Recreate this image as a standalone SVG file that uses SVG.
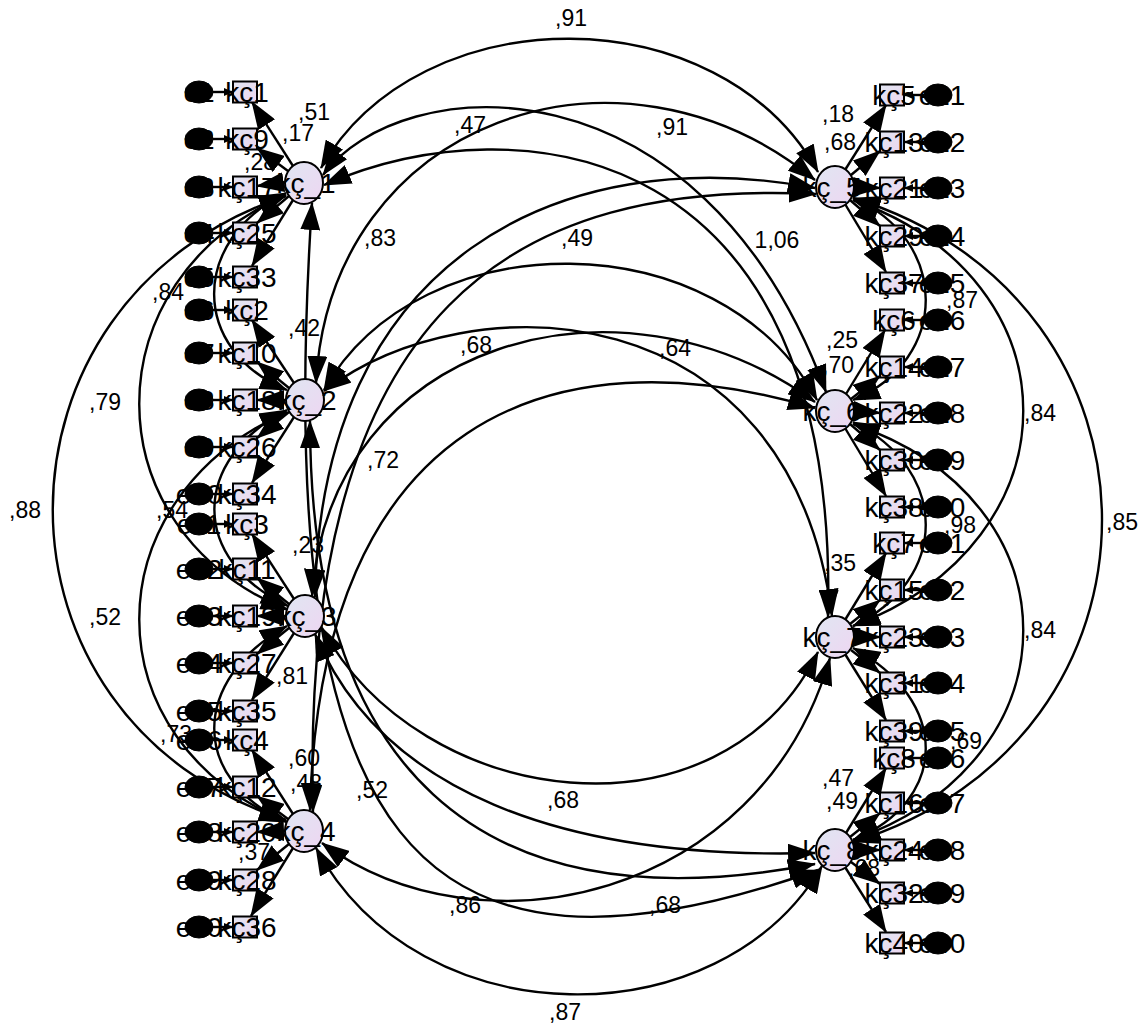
<svg xmlns="http://www.w3.org/2000/svg" width="1145" height="1027" viewBox="0 0 1145 1027">
<defs>
<linearGradient id="gb" x1="0" y1="0" x2="1" y2="1"><stop offset="0" stop-color="#e2e6f2"/><stop offset="1" stop-color="#ecd6f0"/></linearGradient>
<linearGradient id="gl" x1="0" y1="0" x2="1" y2="1"><stop offset="0" stop-color="#e0e6f2"/><stop offset="1" stop-color="#eed6f2"/></linearGradient>
<marker id="ah" markerUnits="userSpaceOnUse" markerWidth="28" markerHeight="20" viewBox="0 0 28 20" refX="27" refY="10" orient="auto-start-reverse"><path d="M0,0 L28,10 L0,20 z" fill="#000"/></marker>
<marker id="ahs" markerUnits="userSpaceOnUse" markerWidth="9" markerHeight="8" viewBox="0 0 9 8" refX="9" refY="4" orient="auto"><path d="M0,0 L9,4 L0,8 z" fill="#000"/></marker>
</defs>
<style>
.cv{fill:none;stroke:#000;stroke-width:2.4;marker-start:url(#ah);marker-end:url(#ah)}
.ld{fill:none;stroke:#000;stroke-width:2.4;marker-end:url(#ah)}
.er{fill:none;stroke:#000;stroke-width:2.4;marker-end:url(#ahs)}
.box{fill:url(#gb);stroke:#000;stroke-width:2}
.lat{fill:url(#gl);stroke:#000;stroke-width:2}
.err{fill:#000;stroke:#000;stroke-width:1}
.t{font-family:"Liberation Sans",Arial,sans-serif;font-size:28px;text-anchor:middle;fill:#000}
.lb{font-family:"Liberation Sans",Arial,sans-serif;font-size:23px;text-anchor:middle;fill:#000}
</style>
<rect width="1145" height="1027" fill="#fff"/>
<g id="connectors">
<path class="cv" d="M321,168 C420,-5 720,-5 818,172"/>
<path class="cv" d="M323,175 C400,70 700,50 826,392"/>
<path class="cv" d="M324,185 C520,100 840,140 828,617"/>
<path class="cv" d="M312,203 C270,850 420,1010 818,870"/>
<path class="cv" d="M316,383 C330,120 620,20 815,180"/>
<path class="cv" d="M324,390 C420,220 720,220 817,400"/>
<path class="cv" d="M324,391 C470,280 790,290 832,616"/>
<path class="cv" d="M310,421 C310,760 470,930 815,864"/>
<path class="cv" d="M315,597 C320,260 560,140 815,188"/>
<path class="cv" d="M312,596 C330,340 620,260 815,402"/>
<path class="cv" d="M322,628 C420,810 720,850 818,652"/>
<path class="cv" d="M315,634 C380,790 560,860 815,853"/>
<path class="cv" d="M313,812 C300,300 520,180 816,194"/>
<path class="cv" d="M310,810 C320,420 550,330 815,408"/>
<path class="cv" d="M322,843 C480,960 760,900 830,658"/>
<path class="cv" d="M316,848 C420,1040 720,1040 822,866"/>
<path class="cv" d="M286,193 C190,240 190,350 287,390"/>
<path class="cv" d="M287,410 C190,460 190,560 288,606"/>
<path class="cv" d="M287,626 C190,680 190,780 287,822"/>
<path class="cv" d="M286,195 C90,280 90,530 288,610"/>
<path class="cv" d="M287,412 C90,500 90,740 287,822"/>
<path class="cv" d="M286,196 C-25,300 -25,720 286,820"/>
<path class="cv" d="M853,198 C950,240 950,360 853,400"/>
<path class="cv" d="M853,422 C950,470 950,580 853,626"/>
<path class="cv" d="M853,648 C950,700 950,800 853,840"/>
<path class="cv" d="M853,200 C1080,280 1080,540 853,626"/>
<path class="cv" d="M853,424 C1080,500 1080,760 853,840"/>
<path class="cv" d="M853,198 C1185,300 1185,740 853,842"/>
<path class="ld" d="M293,166 L252,102"/>
<path class="ld" d="M288,171 L257,148"/>
<path class="ld" d="M284,182 L257,186"/>
<path class="ld" d="M289,196 L257,223"/>
<path class="ld" d="M293,200 L252,266"/>
<path class="ld" d="M294,383 L252,320"/>
<path class="ld" d="M289,388 L257,362"/>
<path class="ld" d="M285,400 L257,400"/>
<path class="ld" d="M289,412 L257,438"/>
<path class="ld" d="M294,417 L252,483"/>
<path class="ld" d="M294,599 L252,534"/>
<path class="ld" d="M289,604 L257,578"/>
<path class="ld" d="M285,616 L257,616"/>
<path class="ld" d="M289,628 L257,654"/>
<path class="ld" d="M294,633 L252,700"/>
<path class="ld" d="M293,814 L252,750"/>
<path class="ld" d="M288,819 L257,796"/>
<path class="ld" d="M284,831 L257,832"/>
<path class="ld" d="M289,844 L257,870"/>
<path class="ld" d="M293,848 L251,916"/>
<path class="ld" d="M845,170 L886,105"/>
<path class="ld" d="M851,175 L880,151"/>
<path class="ld" d="M855,187 L880,188"/>
<path class="ld" d="M850,200 L880,226"/>
<path class="ld" d="M845,204 L886,272"/>
<path class="ld" d="M846,394 L885,330"/>
<path class="ld" d="M851,399 L880,376"/>
<path class="ld" d="M855,411 L880,413"/>
<path class="ld" d="M850,424 L880,450"/>
<path class="ld" d="M845,428 L886,496"/>
<path class="ld" d="M845,620 L886,553"/>
<path class="ld" d="M850,624 L880,600"/>
<path class="ld" d="M855,637 L880,637"/>
<path class="ld" d="M851,650 L880,673"/>
<path class="ld" d="M845,654 L886,720"/>
<path class="ld" d="M846,833 L886,768"/>
<path class="ld" d="M850,837 L880,813"/>
<path class="ld" d="M855,850 L880,850"/>
<path class="ld" d="M851,862 L880,884"/>
<path class="ld" d="M845,867 L886,932"/>
<path class="er" d="M213,92 H233"/><path class="er" d="M213,139 H233"/><path class="er" d="M213,187 H233"/><path class="er" d="M213,233 H233"/><path class="er" d="M213,277 H233"/>
<path class="er" d="M213,310 H233"/><path class="er" d="M213,353 H233"/><path class="er" d="M213,400 H233"/><path class="er" d="M213,447 H233"/><path class="er" d="M213,494 H233"/>
<path class="er" d="M213,524 H233"/><path class="er" d="M213,569 H233"/><path class="er" d="M213,616 H233"/><path class="er" d="M213,663 H233"/><path class="er" d="M213,711 H233"/>
<path class="er" d="M213,740 H233"/><path class="er" d="M213,787 H233"/><path class="er" d="M213,832 H233"/><path class="er" d="M213,880 H233"/><path class="er" d="M213,927 H233"/>
<path class="er" d="M924,95 H904"/><path class="er" d="M924,142 H904"/><path class="er" d="M924,188 H904"/><path class="er" d="M924,236 H904"/><path class="er" d="M924,283 H904"/>
<path class="er" d="M924,320 H904"/><path class="er" d="M924,367 H904"/><path class="er" d="M924,413 H904"/><path class="er" d="M924,460 H904"/><path class="er" d="M924,507 H904"/>
<path class="er" d="M924,543 H904"/><path class="er" d="M924,590 H904"/><path class="er" d="M924,637 H904"/><path class="er" d="M924,683 H904"/><path class="er" d="M924,731 H904"/>
<path class="er" d="M924,758 H904"/><path class="er" d="M924,803 H904"/><path class="er" d="M924,850 H904"/><path class="er" d="M924,893 H904"/><path class="er" d="M924,943 H904"/>
</g>
<g id="labels">
<text class="lb" x="571" y="26">,91</text>
<text class="lb" x="470" y="133">,47</text>
<text class="lb" x="672" y="135">,91</text>
<text class="lb" x="380" y="246">,83</text>
<text class="lb" x="577" y="246">,49</text>
<text class="lb" x="777" y="248">1,06</text>
<text class="lb" x="476" y="353">,68</text>
<text class="lb" x="675" y="356">,64</text>
<text class="lb" x="383" y="468">,72</text>
<text class="lb" x="563" y="808">,68</text>
<text class="lb" x="372" y="798">,52</text>
<text class="lb" x="465" y="913">,86</text>
<text class="lb" x="665" y="913">,68</text>
<text class="lb" x="565" y="1020">,87</text>
<text class="lb" x="105" y="410">,79</text>
<text class="lb" x="25" y="518">,88</text>
<text class="lb" x="105" y="625">,52</text>
<text class="lb" x="168" y="300">,84</text>
<text class="lb" x="172" y="518">,54</text>
<text class="lb" x="176" y="742">,73</text>
<text class="lb" x="962" y="308">,87</text>
<text class="lb" x="960" y="533">,98</text>
<text class="lb" x="966" y="749">,69</text>
<text class="lb" x="1040" y="421">,84</text>
<text class="lb" x="1122" y="530">,85</text>
<text class="lb" x="1040" y="638">,84</text>
<text class="lb" x="314" y="120">,51</text>
<text class="lb" x="298" y="141">,17</text>
<text class="lb" x="260" y="170">,28</text>
<text class="lb" x="304" y="336">,42</text>
<text class="lb" x="308" y="553">,23</text>
<text class="lb" x="292" y="684">,81</text>
<text class="lb" x="304" y="766">,60</text>
<text class="lb" x="306" y="791">,48</text>
<text class="lb" x="254" y="860">,37</text>
<text class="lb" x="838" y="122">,18</text>
<text class="lb" x="840" y="150">,68</text>
<text class="lb" x="842" y="348">,25</text>
<text class="lb" x="838" y="373">,70</text>
<text class="lb" x="840" y="571">,35</text>
<text class="lb" x="838" y="786">,47</text>
<text class="lb" x="842" y="809">,49</text>
<text class="lb" x="864" y="876">,68</text>
</g>
<g id="L1"><ellipse class="lat" cx="304" cy="183" rx="19" ry="21"/><text class="t" x="306" y="193">kç_1</text></g>
<g id="L2"><ellipse class="lat" cx="305" cy="400" rx="19" ry="21"/><text class="t" x="307" y="410">kç_2</text></g>
<g id="L3"><ellipse class="lat" cx="305" cy="616" rx="19" ry="21"/><text class="t" x="307" y="626">kç_3</text></g>
<g id="L4"><ellipse class="lat" cx="304" cy="831" rx="19" ry="21"/><text class="t" x="306" y="841">kç_4</text></g>
<g id="R1"><ellipse class="lat" cx="835" cy="187" rx="19" ry="21"/><text class="t" x="832" y="197">kç_5</text></g>
<g id="R2"><ellipse class="lat" cx="835" cy="411" rx="19" ry="21"/><text class="t" x="832" y="421">kç_6</text></g>
<g id="R3"><ellipse class="lat" cx="835" cy="637" rx="19" ry="21"/><text class="t" x="832" y="647">kç_7</text></g>
<g id="R4"><ellipse class="lat" cx="835" cy="850" rx="19" ry="21"/><text class="t" x="832" y="860">kç_8</text></g>
<g id="left-indicators">
<g id="kc1"><rect class="box" x="233" y="81.5" width="24" height="21"/><text class="t" x="247" y="102">kç1</text></g>
<g id="kc9"><rect class="box" x="233" y="128.5" width="24" height="21"/><text class="t" x="247" y="149">kç9</text></g>
<g id="kc17"><rect class="box" x="233" y="176.5" width="24" height="21"/><text class="t" x="247" y="197">kç17</text></g>
<g id="kc25"><rect class="box" x="233" y="222.5" width="24" height="21"/><text class="t" x="247" y="243">kç25</text></g>
<g id="kc33"><rect class="box" x="233" y="266.5" width="24" height="21"/><text class="t" x="247" y="287">kç33</text></g>
<g id="kc2"><rect class="box" x="233" y="299.5" width="24" height="21"/><text class="t" x="247" y="320">kç2</text></g>
<g id="kc10"><rect class="box" x="233" y="342.5" width="24" height="21"/><text class="t" x="247" y="363">kç10</text></g>
<g id="kc18"><rect class="box" x="233" y="389.5" width="24" height="21"/><text class="t" x="247" y="410">kç18</text></g>
<g id="kc26"><rect class="box" x="233" y="436.5" width="24" height="21"/><text class="t" x="247" y="457">kç26</text></g>
<g id="kc34"><rect class="box" x="233" y="483.5" width="24" height="21"/><text class="t" x="247" y="504">kç34</text></g>
<g id="kc3"><rect class="box" x="233" y="513.5" width="24" height="21"/><text class="t" x="247" y="534">kç3</text></g>
<g id="kc11"><rect class="box" x="233" y="558.5" width="24" height="21"/><text class="t" x="247" y="579">kç11</text></g>
<g id="kc19"><rect class="box" x="233" y="605.5" width="24" height="21"/><text class="t" x="247" y="626">kç19</text></g>
<g id="kc27"><rect class="box" x="233" y="652.5" width="24" height="21"/><text class="t" x="247" y="673">kç27</text></g>
<g id="kc35"><rect class="box" x="233" y="700.5" width="24" height="21"/><text class="t" x="247" y="721">kç35</text></g>
<g id="kc4"><rect class="box" x="233" y="729.5" width="24" height="21"/><text class="t" x="247" y="750">kç4</text></g>
<g id="kc12"><rect class="box" x="233" y="776.5" width="24" height="21"/><text class="t" x="247" y="797">kç12</text></g>
<g id="kc20"><rect class="box" x="233" y="821.5" width="24" height="21"/><text class="t" x="247" y="842">kç20</text></g>
<g id="kc28"><rect class="box" x="233" y="869.5" width="24" height="21"/><text class="t" x="247" y="890">kç28</text></g>
<g id="kc36"><rect class="box" x="233" y="916.5" width="24" height="21"/><text class="t" x="247" y="937">kç36</text></g>
</g>
<g id="right-indicators">
<g id="kc5"><rect class="box" x="880" y="84.5" width="24" height="21"/><text class="t" x="894" y="105">kç5</text></g>
<g id="kc13"><rect class="box" x="880" y="131.5" width="24" height="21"/><text class="t" x="894" y="152">kç13</text></g>
<g id="kc21"><rect class="box" x="880" y="177.5" width="24" height="21"/><text class="t" x="894" y="198">kç21</text></g>
<g id="kc29"><rect class="box" x="880" y="225.5" width="24" height="21"/><text class="t" x="894" y="246">kç29</text></g>
<g id="kc37"><rect class="box" x="880" y="272.5" width="24" height="21"/><text class="t" x="894" y="293">kç37</text></g>
<g id="kc6"><rect class="box" x="880" y="309.5" width="24" height="21"/><text class="t" x="894" y="330">kç6</text></g>
<g id="kc14"><rect class="box" x="880" y="356.5" width="24" height="21"/><text class="t" x="894" y="377">kç14</text></g>
<g id="kc22"><rect class="box" x="880" y="402.5" width="24" height="21"/><text class="t" x="894" y="423">kç22</text></g>
<g id="kc30"><rect class="box" x="880" y="449.5" width="24" height="21"/><text class="t" x="894" y="470">kç30</text></g>
<g id="kc38"><rect class="box" x="880" y="496.5" width="24" height="21"/><text class="t" x="894" y="517">kç38</text></g>
<g id="kc7"><rect class="box" x="880" y="532.5" width="24" height="21"/><text class="t" x="894" y="553">kç7</text></g>
<g id="kc15"><rect class="box" x="880" y="579.5" width="24" height="21"/><text class="t" x="894" y="600">kç15</text></g>
<g id="kc23"><rect class="box" x="880" y="626.5" width="24" height="21"/><text class="t" x="894" y="647">kç23</text></g>
<g id="kc31"><rect class="box" x="880" y="672.5" width="24" height="21"/><text class="t" x="894" y="693">kç31</text></g>
<g id="kc39"><rect class="box" x="880" y="720.5" width="24" height="21"/><text class="t" x="894" y="741">kç39</text></g>
<g id="kc8"><rect class="box" x="880" y="747.5" width="24" height="21"/><text class="t" x="894" y="768">kç8</text></g>
<g id="kc16"><rect class="box" x="880" y="792.5" width="24" height="21"/><text class="t" x="894" y="813">kç16</text></g>
<g id="kc24"><rect class="box" x="880" y="839.5" width="24" height="21"/><text class="t" x="894" y="860">kç24</text></g>
<g id="kc32"><rect class="box" x="880" y="882.5" width="24" height="21"/><text class="t" x="894" y="903">kç32</text></g>
<g id="kc40"><rect class="box" x="880" y="932.5" width="24" height="21"/><text class="t" x="894" y="953">kç40</text></g>
</g>
<g id="left-errors">
<g id="e1"><ellipse class="err" cx="199" cy="92" rx="14" ry="11"/><text class="t" x="199" y="102">e1</text></g>
<g id="e2"><ellipse class="err" cx="199" cy="139" rx="14" ry="11"/><text class="t" x="199" y="149">e2</text></g>
<g id="e3"><ellipse class="err" cx="199" cy="187" rx="14" ry="11"/><text class="t" x="199" y="197">e3</text></g>
<g id="e4"><ellipse class="err" cx="199" cy="233" rx="14" ry="11"/><text class="t" x="199" y="243">e4</text></g>
<g id="e5"><ellipse class="err" cx="199" cy="277" rx="14" ry="11"/><text class="t" x="199" y="287">e5</text></g>
<g id="e6"><ellipse class="err" cx="199" cy="310" rx="14" ry="11"/><text class="t" x="199" y="320">e6</text></g>
<g id="e7"><ellipse class="err" cx="199" cy="353" rx="14" ry="11"/><text class="t" x="199" y="363">e7</text></g>
<g id="e8"><ellipse class="err" cx="199" cy="400" rx="14" ry="11"/><text class="t" x="199" y="410">e8</text></g>
<g id="e9"><ellipse class="err" cx="199" cy="447" rx="14" ry="11"/><text class="t" x="199" y="457">e9</text></g>
<g id="e10"><ellipse class="err" cx="199" cy="494" rx="14" ry="11"/><text class="t" x="199" y="504">e10</text></g>
<g id="e11"><ellipse class="err" cx="199" cy="524" rx="14" ry="11"/><text class="t" x="199" y="534">e11</text></g>
<g id="e12"><ellipse class="err" cx="199" cy="569" rx="14" ry="11"/><text class="t" x="199" y="579">e12</text></g>
<g id="e13"><ellipse class="err" cx="199" cy="616" rx="14" ry="11"/><text class="t" x="199" y="626">e13</text></g>
<g id="e14"><ellipse class="err" cx="199" cy="663" rx="14" ry="11"/><text class="t" x="199" y="673">e14</text></g>
<g id="e15"><ellipse class="err" cx="199" cy="711" rx="14" ry="11"/><text class="t" x="199" y="721">e15</text></g>
<g id="e16"><ellipse class="err" cx="199" cy="740" rx="14" ry="11"/><text class="t" x="199" y="750">e16</text></g>
<g id="e17"><ellipse class="err" cx="199" cy="787" rx="14" ry="11"/><text class="t" x="199" y="797">e17</text></g>
<g id="e18"><ellipse class="err" cx="199" cy="832" rx="14" ry="11"/><text class="t" x="199" y="842">e18</text></g>
<g id="e19"><ellipse class="err" cx="199" cy="880" rx="14" ry="11"/><text class="t" x="199" y="890">e19</text></g>
<g id="e20"><ellipse class="err" cx="199" cy="927" rx="14" ry="11"/><text class="t" x="199" y="937">e20</text></g>
</g>
<g id="right-errors">
<g id="e21"><ellipse class="err" cx="938" cy="95" rx="14" ry="11"/><text class="t" x="942" y="105">e21</text></g>
<g id="e22"><ellipse class="err" cx="938" cy="142" rx="14" ry="11"/><text class="t" x="942" y="152">e22</text></g>
<g id="e23"><ellipse class="err" cx="938" cy="188" rx="14" ry="11"/><text class="t" x="942" y="198">e23</text></g>
<g id="e24"><ellipse class="err" cx="938" cy="236" rx="14" ry="11"/><text class="t" x="942" y="246">e24</text></g>
<g id="e25"><ellipse class="err" cx="938" cy="283" rx="14" ry="11"/><text class="t" x="942" y="293">e25</text></g>
<g id="e26"><ellipse class="err" cx="938" cy="320" rx="14" ry="11"/><text class="t" x="942" y="330">e26</text></g>
<g id="e27"><ellipse class="err" cx="938" cy="367" rx="14" ry="11"/><text class="t" x="942" y="377">e27</text></g>
<g id="e28"><ellipse class="err" cx="938" cy="413" rx="14" ry="11"/><text class="t" x="942" y="423">e28</text></g>
<g id="e29"><ellipse class="err" cx="938" cy="460" rx="14" ry="11"/><text class="t" x="942" y="470">e29</text></g>
<g id="e30"><ellipse class="err" cx="938" cy="507" rx="14" ry="11"/><text class="t" x="942" y="517">e30</text></g>
<g id="e31"><ellipse class="err" cx="938" cy="543" rx="14" ry="11"/><text class="t" x="942" y="553">e31</text></g>
<g id="e32"><ellipse class="err" cx="938" cy="590" rx="14" ry="11"/><text class="t" x="942" y="600">e32</text></g>
<g id="e33"><ellipse class="err" cx="938" cy="637" rx="14" ry="11"/><text class="t" x="942" y="647">e33</text></g>
<g id="e34"><ellipse class="err" cx="938" cy="683" rx="14" ry="11"/><text class="t" x="942" y="693">e34</text></g>
<g id="e35"><ellipse class="err" cx="938" cy="731" rx="14" ry="11"/><text class="t" x="942" y="741">e35</text></g>
<g id="e36"><ellipse class="err" cx="938" cy="758" rx="14" ry="11"/><text class="t" x="942" y="768">e36</text></g>
<g id="e37"><ellipse class="err" cx="938" cy="803" rx="14" ry="11"/><text class="t" x="942" y="813">e37</text></g>
<g id="e38"><ellipse class="err" cx="938" cy="850" rx="14" ry="11"/><text class="t" x="942" y="860">e38</text></g>
<g id="e39"><ellipse class="err" cx="938" cy="893" rx="14" ry="11"/><text class="t" x="942" y="903">e39</text></g>
<g id="e40"><ellipse class="err" cx="938" cy="943" rx="14" ry="11"/><text class="t" x="942" y="953">e40</text></g>
</g>
</svg>
